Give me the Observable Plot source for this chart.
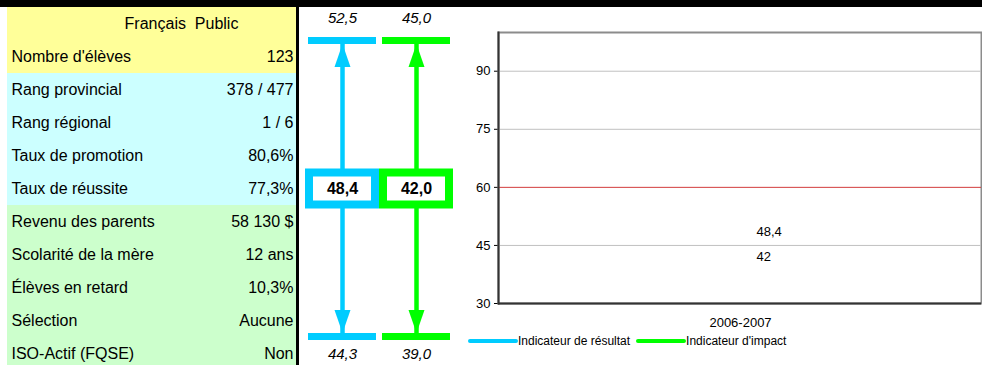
<!DOCTYPE html>
<html>
<head>
<meta charset="utf-8">
<script src="https://cdn.jsdelivr.net/npm/d3@7"></script>
<script src="https://cdn.jsdelivr.net/npm/@observablehq/plot@0.6"></script>
<style>
html, body { margin: 0; padding: 0; background: #fff; overflow: hidden; }
body { width: 982px; height: 365px; position: relative; font-family: "Liberation Sans", Arial, sans-serif; }
#bandeau { position: absolute; left: 0; top: 0; width: 982px; height: 7px; background: #000; }
#tableau { position: absolute; left: 7px; top: 7px; }
#separateur { position: absolute; left: 296px; top: 7px; width: 3px; height: 358px; background: #000; }
#fleches { position: absolute; left: 299px; top: 7px; }
#graphique { position: absolute; left: 460px; top: 7px; }
#legende { position: absolute; left: 468px; top: 332px; height: 18px; display: flex; align-items: center; font-size: 12px; color: #000; }
#legende .item { display: flex; align-items: center; margin-right: 6px; }
#legende .sw { display: inline-block; width: 50px; height: 4px; border-radius: 2px; }
</style>
</head>
<body>
<div id="bandeau"></div>
<div id="tableau"></div>
<div id="separateur"></div>
<div id="fleches"></div>
<div id="graphique"></div>
<div id="legende"></div>
<script>
// ---------- Données ----------
const tableLabels = ["Français\u00A0\u00A0Public", "Nombre d'élèves", "Rang provincial", "Rang régional",
  "Taux de promotion", "Taux de réussite", "Revenu des parents", "Scolarité de la mère",
  "Élèves en retard", "Sélection", "ISO-Actif (FQSE)"];
const tableValues = ["", "123", "378 / 477", "1 / 6", "80,6%", "77,3%", "58 130 $", "12 ans", "10,3%", "Aucune", "Non"];
const tableGroups = ["profil", "profil", "rang", "rang", "rang", "rang", "contexte", "contexte", "contexte", "contexte", "contexte"];

const indicateurs = ["Indicateur de résultat", "Indicateur d'impact"];
const bornesHautes = [52.5, 45.0];
const valeursCentrales = [48.4, 42.0];
const bornesBasses = [44.3, 39.0];
const niveaux = ["haut", "centre", "bas"];

const annees = ["2006-2007"];
const serieResultat = [48.4];
const serieImpact = [42];
const yTicks = [30, 45, 60, 75, 90];
const yDomaine = [30, 100];
const seuil = 60;

// ---------- Styles ----------
const police = "'Liberation Sans', Arial, sans-serif";
const couleursGroupes = {profil: "#FFFF99", rang: "#CCFFFF", contexte: "#CCFFCC"};
const couleursSeries = ["#00CCFF", "#00FF00"];
const fmt1 = v => v.toFixed(1).replace(".", ",");
const fmt = v => String(v).replace(".", ",");

// ---------- Tableau ----------
const lignes = tableLabels.map((label, i) => ({label, valeur: tableValues[i], groupe: tableGroups[i]}));
const tableau = Plot.plot({
  width: 289, height: 358, margin: 0,
  style: {fontFamily: police, fontSize: "16px", background: "transparent", color: "#000"},
  y: {type: "band", domain: tableLabels, range: [0, 363], padding: 0, axis: null},
  color: {domain: Object.keys(couleursGroupes), range: Object.values(couleursGroupes)},
  marks: [
    Plot.cell(lignes, {y: "label", fill: "groupe"}),
    Plot.text(lignes.slice(0, 1), {y: "label", text: "label", textAnchor: "middle", dx: 29.5, fontSize: 16}),
    Plot.text(lignes.slice(1), {y: "label", text: "label", frameAnchor: "left", textAnchor: "start", dx: 4, fontSize: 16}),
    Plot.text(lignes.slice(1), {y: "label", text: "valeur", frameAnchor: "right", textAnchor: "end", dx: -3, fontSize: 16})
  ]
});
document.getElementById("tableau").append(tableau);

// ---------- Flèches ----------
const points = [];
indicateurs.forEach((serie, i) => {
  points.push({serie, niveau: "haut", v: bornesHautes[i]});
  points.push({serie, niveau: "centre", v: valeursCentrales[i]});
  points.push({serie, niveau: "bas", v: bornesBasses[i]});
});
const bornes = points.filter(d => d.niveau !== "centre");
const centres = points.filter(d => d.niveau === "centre");
const tete = {
  draw(context, l) {
    context.moveTo(-8, 3.5 + l);
    context.lineTo(0, 3.5);
    context.lineTo(8, 3.5 + l);
    context.closePath();
  }
};
const fleches = Plot.plot({
  width: 161, height: 358, marginLeft: 6, marginRight: 7, marginTop: 0, marginBottom: 0,
  style: {fontFamily: police, background: "transparent", color: "#000"},
  x: {type: "band", domain: indicateurs, padding: 0, axis: null},
  y: {type: "point", domain: niveaux, range: [32.5, 328.5], padding: 0, axis: null},
  color: {domain: indicateurs, range: couleursSeries},
  marks: [
    Plot.ruleX(bornes, {x: "serie", y1: "niveau", y2: () => "centre", stroke: "serie", strokeWidth: 4.5}),
    Plot.tickY(bornes, {x: "serie", y: "niveau", stroke: "serie", strokeWidth: 7, inset: 3}),
    Plot.vector(bornes, {x: "serie", y: "niveau", rotate: d => d.niveau === "bas" ? 180 : 0, anchor: "start",
      length: 23, shape: tete, fill: "serie", stroke: "none"}),
    Plot.tickY(centres, {x: "serie", y: "niveau", stroke: "serie", strokeWidth: 40}),
    Plot.tickY(centres, {x: "serie", y: "niveau", stroke: "white", strokeWidth: 24, inset: 8}),
    Plot.text(centres, {x: "serie", y: "niveau", text: d => fmt1(d.v), fontWeight: "bold", fontSize: 16, fill: "#000"}),
    Plot.text(bornes.filter(d => d.niveau === "haut"), {x: "serie", y: "niveau", text: d => fmt1(d.v), fontStyle: "italic", fontSize: 15, dy: -22.5, fill: "#000"}),
    Plot.text(bornes.filter(d => d.niveau === "bas"), {x: "serie", y: "niveau", text: d => fmt1(d.v), fontStyle: "italic", fontSize: 15, dy: 17.5, fill: "#000"})
  ]
});
document.getElementById("fleches").append(fleches);

// ---------- Graphique ----------
const serieData = [];
annees.forEach((annee, i) => {
  serieData.push({annee, serie: indicateurs[0], valeur: serieResultat[i]});
  serieData.push({annee, serie: indicateurs[1], valeur: serieImpact[i]});
});
const graphique = Plot.plot({
  width: 522, height: 325, marginLeft: 38, marginRight: 1, marginTop: 25, marginBottom: 29,
  style: {fontFamily: police, fontSize: "13px", background: "transparent", color: "#000"},
  x: {type: "point", domain: annees, label: null, tickSize: 0, tickPadding: 14},
  y: {domain: yDomaine, ticks: yTicks, tickSize: 4, tickPadding: 4, label: null},
  color: {domain: indicateurs, range: couleursSeries},
  marks: [
    Plot.frame({stroke: "#8c8c8c", strokeWidth: 2}),
    Plot.ruleY(yTicks.filter(v => v !== yDomaine[0] && v !== seuil), {stroke: "#c0c0c0"}),
    Plot.ruleY([seuil], {stroke: "#d23c3c"}),
    Plot.frame({anchor: "left", stroke: "#333", strokeWidth: 2}),
    Plot.ruleY([yDomaine[0]], {stroke: "#333", strokeWidth: 2}),
    Plot.line(serieData, {x: "annee", y: "valeur", z: "serie", stroke: "serie", strokeWidth: 4, strokeLinecap: "butt"}),
    Plot.text(serieData, {x: "annee", y: "valeur", text: d => fmt(d.valeur), textAnchor: "start", dx: 16, fontSize: 13, fill: "#000"})
  ]
});
document.getElementById("graphique").append(graphique);

// ---------- Légende ----------
const legende = document.getElementById("legende");
indicateurs.forEach((nom, i) => {
  const item = document.createElement("span");
  item.className = "item";
  const sw = document.createElement("span");
  sw.className = "sw";
  sw.style.background = couleursSeries[i];
  item.append(sw, document.createTextNode(nom));
  legende.append(item);
});
</script>
</body>
</html>
